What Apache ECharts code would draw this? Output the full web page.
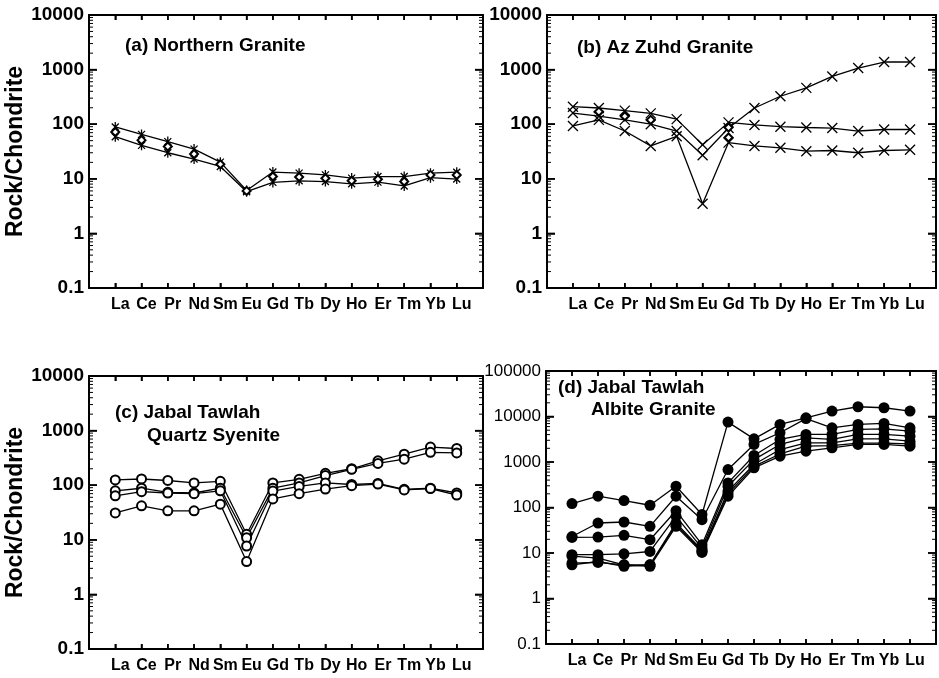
<!DOCTYPE html>
<html><head><meta charset="utf-8">
<script src="https://cdn.jsdelivr.net/npm/echarts@6/dist/echarts.min.js"></script>
<style>html,body{margin:0;padding:0;background:#fff}#c{width:939px;height:678px}</style>
</head><body><div id="c"></div>
<script>
// ---- data ----
const elements = ['La','Ce','Pr','Nd','Sm','Eu','Gd','Tb','Dy','Ho','Er','Tm','Yb','Lu'];
const yTicks4 = [0.1, 1, 10, 100, 1000, 10000];
const yTicks5 = [0.1, 1, 10, 100, 1000, 10000, 100000];

// (a) Northern Granite
const a_s1 = [89, 65, 48, 35, 20.2, 6.1, 13.3, 12.7, 11.8, 10.3, 11, 11, 12.7, 13.2];
const a_s2 = [59, 41, 30, 23, 16.8, 5.8, 8.6, 9.2, 8.9, 8.1, 8.7, 7.4, 10.5, 9.9];
const a_d1 = [72, 51, 39, 28.5, 18.5, 6.0, 11, 10.8, 10.2, 9.2, 9.8, 8.9, 11.8, 11.7];

// (b) Az Zuhd Granite
const b_s1 = [209, 198, 177, 158, 124, 42, 108, 97, 90, 87, 85, 75, 80, 80];
const b_s2 = [160, 140, 120, 100, 75, 27, 85, 198, 325, 462, 750, 1067, 1377, 1377];
const b_s3 = [93, 120, 75, 40, 60, 3.5, 46, 40, 37, 32, 33, 30, 33, 34];
const b_d1 = [null, 170, 140, 120, null, null, 87, null, null, null, null, null, null, null];
const b_d2 = [null, null, null, null, null, null, 57, null, null, null, null, null, null, null];

// (c) Jabal Tawlah Quartz Syenite
const c_s1 = [125, 130, 122, 110, 118, 12.6, 110, 128, 165, 200, 280, 370, 500, 470];
const c_s2 = [79, 88, 74, 72, 88, 10.9, 88, 110, 150, 195, 250, 300, 400, 390];
const c_s3 = [64, 76, 72, 70, 79, 7.7, 78, 95, 110, 103, 108, 84, 88, 72];
const c_s4 = [31, 42, 34, 34, 45, 4.0, 56, 70, 85, 98, 105, 82, 87, 66];

// (d) Jabal Tawlah Albite Granite
const d_s1 = [122, 177, 142, 112, 293, 70, 7530, 3230, 6690, 9380, 13150, 16380, 15570, 13150];
const d_s2 = [23, 45.6, 48, 38.5, 177, 54, 682, 2430, 4390, 9000, 5650, 6690, 7030, 5650];
const d_s3 = [22, 22.4, 24.4, 19.6, 85, 15.2, 347, 1390, 3130, 4030, 4030, 5190, 5370, 4770];
const d_s4 = [9.2, 9.2, 9.6, 10.8, 64, 12.8, 293, 1130, 2430, 3400, 3130, 4030, 4030, 3700];
const d_s5 = [8.5, 7.7, 5.5, 5.5, 45.6, 11.5, 228, 880, 1880, 2640, 2640, 3230, 3230, 2870];
const d_s6 = [6, 6.2, 5.5, 5.1, 38.5, 10.3, 177, 743, 1340, 1730, 2050, 2430, 2430, 2230];
const d_s7 = [5.5, 6.5, 5.1, 5.5, 42, 10.8, 200, 800, 1500, 2230, 2300, 2600, 2600, 2500];

const titles = [
  {text: '(a) Northern Granite', left: 125, top: 36},
  {text: '(b) Az Zuhd Granite', left: 577, top: 38},
  {text: '(c) Jabal Tawlah', left: 115, top: 403},
  {text: 'Quartz Syenite', left: 147, top: 426},
  {text: '(d) Jabal Tawlah', left: 558, top: 378},
  {text: 'Albite Granite', left: 591, top: 400}
];

// ---- chart ----
const FF = '"Liberation Sans", Arial, Helvetica, sans-serif';
const grids = [
  {left: 89, top: 15, width: 394, height: 273},
  {left: 547, top: 15, width: 391, height: 273},
  {left: 89, top: 376, width: 394, height: 273},
  {left: 546, top: 371, width: 392, height: 273}
];
const yMax = [10000, 10000, 10000, 100000];
const ySplit = [5, 5, 5, 6];
const yBold = [true, true, true, false];
const yName = ['Rock/Chondrite', '', 'Rock/Chondrite', ''];
const yNameGap = [48, 0, 58, 0];
const fmt = v => String(Number(Number(v).toPrecision(6)));

function minorValues(maxV) {
  const out = [];
  for (let d = 0.1; d < maxV * 0.99; d *= 10) {
    for (let k = 2; k <= 9; k++) out.push(Number((d * k).toPrecision(6)));
  }
  return out;
}

const xAxes = [], yAxes = [];
grids.forEach((g, i) => {
  xAxes.push({
    type: 'value', gridIndex: i, min: 0, max: 15, interval: 1, position: 'bottom',
    axisLine: {show: true, onZero: false, lineStyle: {color: '#000', width: 2}},
    axisTick: {show: true, inside: true, length: 5, lineStyle: {color: '#000', width: 1.5}},
    axisLabel: {show: true, formatter: v => elements[v - 1] || '', fontSize: 16, fontWeight: 'bold',
      color: '#000', fontFamily: FF, margin: 9, padding: [0, 0, 0, 10]},
    splitLine: {show: false}
  });
  xAxes.push({
    type: 'value', gridIndex: i, min: 0, max: 15, interval: 1, position: 'top',
    axisLine: {show: true, onZero: false, lineStyle: {color: '#000', width: 2}},
    axisTick: {show: true, inside: true, length: 5, lineStyle: {color: '#000', width: 1.5}},
    axisLabel: {show: false}, splitLine: {show: false}
  });
  yAxes.push({
    type: 'log', logBase: 10, gridIndex: i, min: 0.1, max: yMax[i], splitNumber: ySplit[i],
    position: 'left', splitLine: {show: false}, minorTick: {show: false},
    axisLine: {show: true, onZero: false, lineStyle: {color: '#000', width: 2}},
    axisTick: {show: true, inside: true, length: 8, lineStyle: {color: '#000', width: 1.5}},
    axisLabel: {show: true, formatter: fmt, fontSize: yBold[i] ? 19 : 17,
      fontWeight: yBold[i] ? 'bold' : 'normal', color: '#000', fontFamily: FF, margin: 5},
    name: yName[i], nameLocation: 'middle', nameGap: yNameGap[i], nameRotate: 90,
    nameTextStyle: {fontSize: 23, fontWeight: 'bold', color: '#000', fontFamily: FF}
  });
  yAxes.push({
    type: 'log', logBase: 10, gridIndex: i, min: 0.1, max: yMax[i], splitNumber: ySplit[i],
    position: 'right', splitLine: {show: false}, minorTick: {show: false},
    axisLine: {show: true, onZero: false, lineStyle: {color: '#000', width: 2}},
    axisTick: {show: true, inside: true, length: 8, lineStyle: {color: '#000', width: 1.5}},
    axisLabel: {show: false}
  });
});

const ASTERISK = 'path://M1.5,1.5L8.5,8.5M8.5,1.5L1.5,8.5M5,0L5,10';
const CROSS = 'path://M0,0L10,10M10,0L0,10';

function mk(values, gi, symbol, size, noLine) {
  const isPath = symbol.indexOf('path://') === 0;
  const filled = symbol === 'circle';
  return {
    type: 'line', xAxisIndex: gi * 2, yAxisIndex: gi * 2,
    data: values.map((v, k) => [k + 1, v]),
    symbol: symbol, symbolSize: size, symbolKeepAspect: true,
    lineStyle: {color: '#000', width: 1.3, opacity: noLine ? 0 : 1},
    itemStyle: isPath ? {color: 'rgba(0,0,0,0)', borderColor: '#000', borderWidth: 1.3}
      : filled ? {color: '#000', borderColor: '#000', borderWidth: 0}
      : {color: '#000', borderColor: '#000', borderWidth: 1.3},
    emphasis: {disabled: true}, silent: true
  };
}

// short frame ticks placed through the axis scales (one line element per item)
function tickSeries(gi, points, dx, dy, lw) {
  return {
    type: 'custom', xAxisIndex: gi * 2, yAxisIndex: gi * 2, silent: true, clip: false,
    data: points, encode: {x: 0, y: 1},
    renderItem: (params, api) => {
      const p = api.coord([api.value(0), api.value(1)]);
      return {type: 'line', shape: {x1: p[0], y1: p[1], x2: p[0] + dx, y2: p[1] + dy},
        style: {stroke: '#000', lineWidth: lw}};
    }
  };
}
function frameTicks(gi) {
  const minors = minorValues(yMax[gi]);
  const majors = yMax[gi] === 10000 ? yTicks4 : yTicks5;
  const xs = elements.map((e, k) => k + 1);
  return [
    tickSeries(gi, minors.map(v => [0, v]), 4, 0, 1),
    tickSeries(gi, minors.map(v => [15, v]), -4, 0, 1),
    tickSeries(gi, majors.map(v => [0, v]), 8, 0, 1.5),
    tickSeries(gi, majors.map(v => [15, v]), -8, 0, 1.5),
    tickSeries(gi, xs.map(x => [x, 0.1]), 0, -5, 1.5),
    tickSeries(gi, xs.map(x => [x, yMax[gi]]), 0, 5, 1.5)
  ];
}

const series = [
  mk(a_s1, 0, ASTERISK, 10), mk(a_s2, 0, ASTERISK, 10), mk(a_d1, 0, 'emptyDiamond', 8, true),
  mk(b_s1, 1, CROSS, 10), mk(b_s2, 1, CROSS, 10), mk(b_s3, 1, CROSS, 10),
  mk(b_d1, 1, 'emptyDiamond', 8, true), mk(b_d2, 1, 'emptyDiamond', 8, true),
  mk(c_s1, 2, 'emptyCircle', 9), mk(c_s2, 2, 'emptyCircle', 9), mk(c_s3, 2, 'emptyCircle', 9), mk(c_s4, 2, 'emptyCircle', 9),
  mk(d_s1, 3, 'circle', 11), mk(d_s2, 3, 'circle', 11), mk(d_s3, 3, 'circle', 11), mk(d_s4, 3, 'circle', 11),
  mk(d_s5, 3, 'circle', 11), mk(d_s6, 3, 'circle', 11), mk(d_s7, 3, 'circle', 11)
].concat(frameTicks(0), frameTicks(1), frameTicks(2), frameTicks(3));

const chart = echarts.init(document.getElementById('c'), null, {renderer: 'canvas'});
chart.setOption({
  backgroundColor: '#fff',
  animation: false,
  title: titles.map(t => ({text: t.text, left: t.left, top: t.top, padding: 0,
    textStyle: {fontSize: 19, fontWeight: 'bold', color: '#000', fontFamily: FF}})),
  grid: grids,
  xAxis: xAxes,
  yAxis: yAxes,
  series: series
});
</script></body></html>
